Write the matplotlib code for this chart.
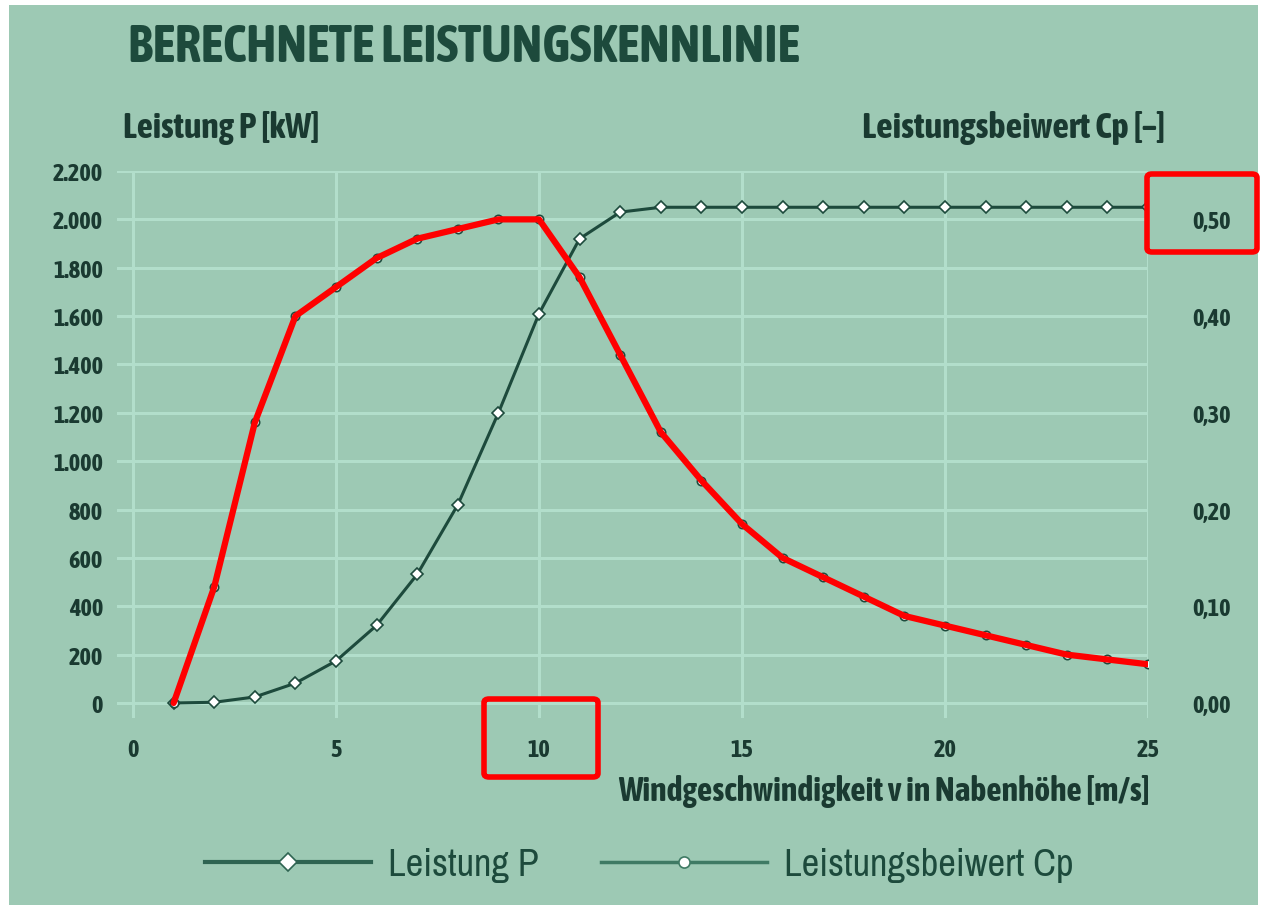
import matplotlib
matplotlib.use("Agg")
import matplotlib.pyplot as plt
from matplotlib import font_manager
from matplotlib.patches import Rectangle, FancyBboxPatch
from matplotlib.lines import Line2D

# ---------------- data ----------------
wind_speed = [1, 2, 3, 4, 5, 6, 7, 8, 9, 10, 11, 12, 13, 14, 15, 16, 17, 18, 19, 20, 21, 22, 23, 24, 25]
power_kw = [0, 3, 25, 82, 174, 321, 532, 820, 1200, 1610, 1920, 2030, 2050, 2050, 2050, 2050,
            2050, 2050, 2050, 2050, 2050, 2050, 2050, 2050, 2050]
cp_values = [0.00, 0.12, 0.29, 0.40, 0.43, 0.46, 0.48, 0.49, 0.50, 0.50, 0.44, 0.36, 0.28, 0.23,
             0.185, 0.15, 0.13, 0.11, 0.09, 0.08, 0.07, 0.06, 0.05, 0.045, 0.04]
x_ticks = [0, 5, 10, 15, 20, 25]
p_ticks = [0, 200, 400, 600, 800, 1000, 1200, 1400, 1600, 1800, 2000, 2200]
p_tick_labels = ["0", "200", "400", "600", "800", "1.000", "1.200", "1.400", "1.600", "1.800", "2.000", "2.200"]
cp_ticks = [0.0, 0.1, 0.2, 0.3, 0.4, 0.5]
cp_tick_labels = ["0,00", "0,10", "0,20", "0,30", "0,40", "0,50"]

title = "BERECHNETE LEISTUNGSKENNLINIE"
left_label = "Leistung P [kW]"
right_label = "Leistungsbeiwert Cp [–]"
x_label = "Windgeschwindigkeit v in Nabenhöhe [m/s]"
legend_p = "Leistung P"
legend_cp = "Leistungsbeiwert Cp"

# ---------------- fonts: prefer a condensed family that has a bold face ----------------
weights = {}
for f in font_manager.fontManager.ttflist:
    n = f.name
    if ("Condensed" in n or "Narrow" in n) and "CJK" not in n:
        w = f.weight
        if isinstance(w, str):
            w = font_manager.weight_dict.get(w, 400)
        weights.setdefault(n, set()).add(int(w))
bold_narrow = sorted(n for n, ws in weights.items() if max(ws) >= 600)
any_narrow = sorted(weights)
NARROW_B = (bold_narrow[:1] or any_narrow[:1]) + ["Liberation Sans", "DejaVu Sans"]
NARROW_R = (any_narrow[:1]) + ["Liberation Sans", "DejaVu Sans"]

# ---------------- style ----------------
BG = "#9dc9b4"
GRID = "#b2decb"
DARK = "#1d4a3c"
TXT = "#1a3a31"

W, H = 1263, 912
fig = plt.figure(figsize=(W / 100, H / 100), dpi=100)
fig.patch.set_facecolor("white")
fig.patches.append(Rectangle((9 / W, 1 - 906 / H), (1258 - 9) / W, (906 - 6) / H,
                             transform=fig.transFigure, facecolor=BG, edgecolor="none", zorder=-10))

ax_left, ax_right_px = 116.8, 1148
ax_top, ax_bottom = 172, 718.5
ax = fig.add_axes([ax_left / W, 1 - ax_bottom / H, (ax_right_px - ax_left) / W, (ax_bottom - ax_top) / H])
ax.set_facecolor(BG)
ax.set_xlim(-0.4, 25)
ax.set_ylim(-60, 2200)
for s in ax.spines.values():
    s.set_visible(False)

TICK_FS = 17.5
ax.set_xticks(x_ticks)
ax.set_xticklabels([str(t) for t in x_ticks], fontfamily=NARROW_B, fontweight="bold", fontsize=TICK_FS, color=TXT)
ax.set_yticks(p_ticks)
ax.set_yticklabels(p_tick_labels, fontfamily=NARROW_B, fontweight="bold", fontsize=TICK_FS, color=TXT)
ax.tick_params(axis="both", length=0)
ax.tick_params(axis="y", pad=10)
ax.tick_params(axis="x", pad=15)
ax.grid(True, color=GRID, linewidth=2.2)
ax.set_axisbelow(True)

ax2 = ax.twinx()
ax2.set_ylim(-60 / 4000, 2200 / 4000)
for s in ax2.spines.values():
    s.set_visible(False)
ax2.set_yticks(cp_ticks)
ax2.set_yticklabels(cp_tick_labels, fontfamily=NARROW_B, fontweight="bold", fontsize=TICK_FS, color=TXT)
ax2.tick_params(axis="y", length=0, pad=32)

# curves
lp, = ax.plot(wind_speed, power_kw, color=DARK, linewidth=2.2, marker="D", markersize=6.5,
              markerfacecolor="white", markeredgecolor=DARK, markeredgewidth=1.2, zorder=3)
lc, = ax2.plot(wind_speed, cp_values, color=DARK, linewidth=2.2, marker="o", markersize=6,
               markerfacecolor="white", markeredgecolor=DARK, markeredgewidth=1.2, zorder=3)
# red hand-drawn highlight over the Cp curve
ax2.plot(wind_speed, cp_values, color="#ff0000", linewidth=4.5, solid_joinstyle="round",
         solid_capstyle="round", zorder=5)

# texts
t_title = fig.text(128 / W, 1 - 47 / H, title, fontfamily=NARROW_B, fontweight="bold",
                   fontsize=32, color=DARK, ha="left", va="center")
t_left = fig.text(123 / W, 1 - 128 / H, left_label, fontfamily=NARROW_B, fontweight="bold",
                  fontsize=17, color=TXT, ha="left", va="center")
t_right = fig.text(1165 / W, 1 - 128 / H, right_label, fontfamily=NARROW_B, fontweight="bold",
                   fontsize=17, color=TXT, ha="right", va="center")
t_x = fig.text(1150 / W, 1 - 792 / H, x_label, fontfamily=NARROW_B, fontweight="bold",
               fontsize=18, color=TXT, ha="right", va="center")

# fit text widths to the reference layout
renderer = fig.canvas.get_renderer()


def fit(txt, target_px, shrink=1.0, lo=8, hi=60):
    w = txt.get_window_extent(renderer).width
    size = txt.get_fontsize() * target_px / max(w, 1) * shrink
    txt.set_fontsize(min(max(size, lo), hi))


fit(t_title, 672)
fit(t_left, 214, 0.92)
fit(t_right, 330, 0.92)
fit(t_x, 578, 0.92)

# legend
hp = Line2D([], [], color="#2f6452", linewidth=3, marker="D", markersize=9,
            markerfacecolor="white", markeredgecolor="#2f6452", markeredgewidth=1.2)
hc = Line2D([], [], color="#3f7a64", linewidth=2.5, marker="o", markersize=8,
            markerfacecolor="white", markeredgecolor="#3f7a64", markeredgewidth=1.2)
probe = fig.text(0, 0, legend_cp, fontfamily=NARROW_R, fontsize=24)
pw = probe.get_window_extent(renderer).width
probe.remove()
leg_fs = max(min(24 * 290 / max(pw, 1), 34), 14)
em = leg_fs * 100 / 72
leg = fig.legend([hp, hc], [legend_p, legend_cp], loc="center", bbox_to_anchor=(639 / W, 1 - 866 / H),
                 ncol=2, frameon=False, handlelength=166 / em, handletextpad=17 / em,
                 columnspacing=62 / em, prop={"family": NARROW_R, "size": leg_fs})
for t in leg.get_texts():
    t.set_color(DARK)

# red annotation boxes
for (x0, y0, x1, y1) in [(1147, 175, 1257, 253), (484, 700, 598, 778)]:
    fig.patches.append(FancyBboxPatch((x0 / W, 1 - y1 / H), (x1 - x0) / W, (y1 - y0) / H,
                                      boxstyle="round,pad=0,rounding_size=0.004",
                                      transform=fig.transFigure, facecolor="none",
                                      edgecolor="#ff0000", linewidth=4, zorder=20))

fig.savefig("out.png", dpi=100, facecolor=fig.get_facecolor())
